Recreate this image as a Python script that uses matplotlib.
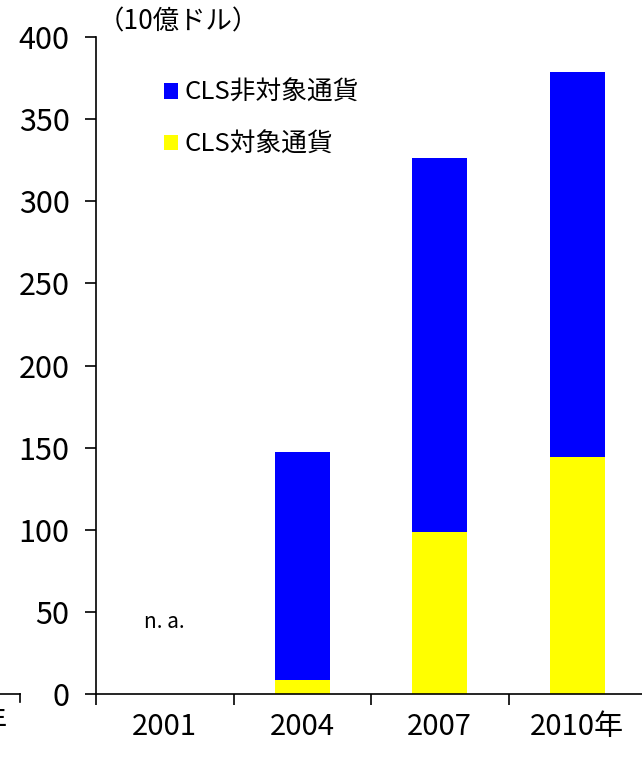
import matplotlib
matplotlib.use("Agg")
import matplotlib.pyplot as plt
from matplotlib.lines import Line2D

plt.rcParams['font.family'] = ['Noto Sans CJK JP', 'DejaVu Sans']

years = ['2001', '2004', '2007', '2010年']
cls_target = [0, 8.5, 98.5, 144.5]       # CLS対象通貨
cls_total = [0, 147.5, 326.5, 378.5]     # total bar height
cls_non_target = [t - c for t, c in zip(cls_total, cls_target)]  # CLS非対象通貨
na_label = 'n. a.'

fig = plt.figure(figsize=(6.42, 7.57), dpi=100)
ax = fig.add_axes([96/642, 63/757, 550/642, 657/757])

x = range(len(years))
ax.bar(x[1:], cls_target[1:], width=0.4, color='#ffff00', label='CLS対象通貨')
ax.bar(x[1:], cls_non_target[1:], width=0.4, bottom=cls_target[1:],
       color='#0000ff', label='CLS非対象通貨')
ax.text(0, 44, na_label, ha='center', va='center', fontsize=15)

ax.set_xlim(-0.5, 3.5)
ax.set_ylim(0, 400)
ax.set_yticks(range(0, 401, 50))
ax.set_xticks(list(x))
ax.set_xticklabels(years)
ax.set_xticks([-0.5, 0.5, 1.5, 2.5], minor=True)
ax.tick_params(axis='x', which='major', length=0, pad=13, labelsize=21)
ax.tick_params(axis='x', which='minor', length=8, width=1.2, direction='out')
ax.tick_params(axis='y', length=8, width=1.2, direction='out', pad=11, labelsize=22)

for s in ['top', 'right']:
    ax.spines[s].set_visible(False)
for s in ['left', 'bottom']:
    ax.spines[s].set_linewidth(1.2)

h, l = ax.get_legend_handles_labels()
ax.legend(h[::-1], l[::-1], loc='upper left', bbox_to_anchor=(0.105, 0.95),
          frameon=False, fontsize=18.5, handlelength=0.55, handleheight=0.55,
          handletextpad=0.25, labelspacing=1.0, borderaxespad=0)

fig.text(98/642, 1 - 22/757, '（10億ドル）', fontsize=19, ha='left', va='center')

# fragment of neighbouring chart at the left edge
fig.add_artist(Line2D([0, 20/642], [63/757, 63/757], color='black', lw=1.2))
fig.add_artist(Line2D([20/642, 20/642], [63/757, 55/757], color='black', lw=1.2))
fig.text(-22/642, 1 - 722/757, '年', fontsize=21, ha='left', va='center')

fig.savefig('out.png', dpi=100)
